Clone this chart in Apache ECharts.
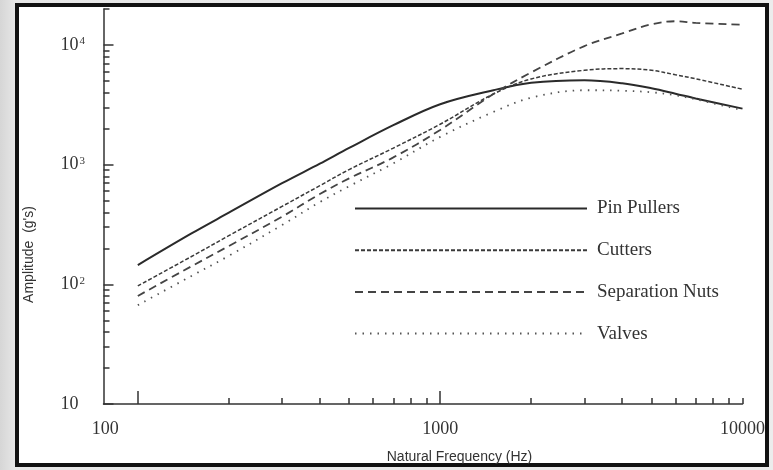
<!DOCTYPE html>
<html>
<head>
<meta charset="utf-8">
<script src="https://cdn.jsdelivr.net/npm/echarts@6/dist/echarts.min.js"></script>
<style>
  html, body { margin: 0; padding: 0; width: 773px; height: 470px; overflow: hidden;
    background: linear-gradient(to right, #d6d6d6 0px, #e6e6e6 15px, #ececec 100%); }
  #chart { width: 773px; height: 470px; }
</style>
</head>
<body>
<div id="chart"></div>
<script>
// ---- data ----
const seriesNames = ['Pin Pullers', 'Cutters', 'Separation Nuts', 'Valves'];
const freqs       = [100, 150, 200, 300, 400, 500, 700, 1000, 1500, 2000, 3000, 4000, 5000, 6000, 7000, 10000];
const pinPullers  = [145, 265, 397, 700, 1020, 1380, 2138, 3200, 4190, 4830, 5070, 4790, 4350, 3920, 3570, 2940];
const cutters     = [97, 170, 255, 448, 668, 910, 1377, 2178, 3900, 5210, 6150, 6350, 6150, 5640, 5220, 4270];
const sepNuts     = [80, 141, 209, 368, 568, 769, 1150, 1950, 3900, 5900, 9800, 12500, 14900, 15800, 15300, 14800];
const valves      = [67, 117, 173, 313, 487, 661, 1025, 1706, 2760, 3630, 4190, 4150, 4030, 3800, 3520, 2850];

// axis ticks / labels
const xMin = 77, xMax = 10000;
const yMin = 10, yMax = 20000;
const xMajorTicks = [100, 1000];
const xMinorTicks = [200, 300, 400, 500, 600, 700, 800, 900, 2000, 3000, 4000, 5000, 6000, 7000, 8000, 9000, 10000];
const xLabelValues = [78, 1000, 10000];
const xTickLabels = ['100', '1000', '10000'];
const yMajorTicks = [10, 100, 1000, 10000];
const yMinorTicks = [20, 30, 40, 50, 60, 70, 80, 90, 200, 300, 400, 500, 600, 700, 800, 900,
                     2000, 3000, 4000, 5000, 6000, 7000, 8000, 9000, 20000];
const yTickLabels = ['10', '10^2', '10^3', '10^4'];
const xTitle = 'Natural Frequency (Hz)';
const yTitle = "Amplitude  (g's)";

const toPairs = vals => freqs.map((f, i) => [f, vals[i]]);

const serif = "'Liberation Serif', 'Times New Roman', serif";
const sans = "'Liberation Sans', Arial, sans-serif";
const ink = '#333';

const grid = { left: 103.5, right: 30.5, top: 9, bottom: 66 };

const chart = echarts.init(document.getElementById('chart'), null, { renderer: 'canvas' });

const lineStyles = [
  { color: '#2a2a2a', width: 2, type: 'solid' },
  { color: '#3a3a3a', width: 1.5, type: [4, 2] },
  { color: '#444', width: 1.8, type: [8, 5] },
  { color: '#555', width: 1.8, type: [1.5, 6] }
];
const dataSets = [pinPullers, cutters, sepNuts, valves];

chart.setOption({
  animation: false,
  backgroundColor: 'transparent',
  graphic: [{
    type: 'rect', z: -10, silent: true,
    shape: { x: 17, y: 5, width: 750, height: 460 },
    style: { fill: '#fff', stroke: '#111', lineWidth: 4 }
  }],
  grid: grid,
  legend: {
    data: seriesNames,
    orient: 'vertical',
    left: 354, top: 199, padding: 0,
    itemWidth: 232, itemHeight: 14, itemGap: 22.7,
    itemStyle: { opacity: 0 },
    textStyle: { fontFamily: serif, fontSize: 19, color: ink, padding: [0, 0, 0, 5] },
    selectedMode: false
  },
  xAxis: [{
    type: 'log', min: xMin, max: xMax, logBase: 10,
    position: 'bottom',
    axisLine: { show: true, lineStyle: { color: ink, width: 1.5 } },
    axisTick: { show: true, inside: true, length: 13, customValues: xMajorTicks, lineStyle: { color: ink, width: 1.5 } },
    axisLabel: {
      show: true, margin: 16, customValues: xLabelValues,
      fontFamily: serif, fontSize: 18, color: ink,
      formatter: v => { const i = xLabelValues.findIndex(x => Math.abs(x - v) < 1e-6 * x); return i >= 0 ? xTickLabels[i] : ''; }
    },
    splitLine: { show: false },
    name: xTitle, nameLocation: 'middle', nameGap: 46,
    nameTextStyle: { fontFamily: sans, fontSize: 14, color: ink, padding: [0, 0, 0, 73] }
  }, {
    type: 'log', min: xMin, max: xMax, logBase: 10,
    position: 'bottom',
    axisLine: { show: false },
    axisTick: { show: true, inside: true, length: 6, customValues: xMinorTicks, lineStyle: { color: ink, width: 1.5 } },
    axisLabel: { show: false },
    splitLine: { show: false }
  }],
  yAxis: [{
    type: 'log', min: yMin, max: yMax, logBase: 10,
    position: 'left',
    axisLine: { show: true, lineStyle: { color: ink, width: 1.5 } },
    axisTick: { show: true, inside: true, length: 10, customValues: yMajorTicks, lineStyle: { color: ink, width: 1.5 } },
    axisLabel: {
      show: true, margin: 43, align: 'left', customValues: yMajorTicks,
      fontFamily: serif, fontSize: 18, color: ink,
      formatter: v => {
        const i = yMajorTicks.findIndex(x => Math.abs(x - v) < 1e-6 * x);
        if (i < 0) return '';
        const parts = yTickLabels[i].split('^');
        return parts.length > 1 ? '{b|' + parts[0] + '}{s|' + parts[1] + '}' : '{b|' + parts[0] + '}';
      },
      rich: {
        b: { fontFamily: serif, fontSize: 18, color: ink, lineHeight: 18 },
        s: { fontFamily: serif, fontSize: 11, color: ink, lineHeight: 11, verticalAlign: 'top', padding: [0, 0, 0, 1] }
      }
    },
    splitLine: { show: false },
    name: yTitle, nameLocation: 'middle', nameGap: 67, nameRotate: 90,
    nameTextStyle: { fontFamily: sans, fontSize: 14, color: ink, padding: [0, 96, 0, 0] }
  }, {
    type: 'log', min: yMin, max: yMax, logBase: 10,
    position: 'left',
    axisLine: { show: false },
    axisTick: { show: true, inside: true, length: 6, customValues: yMinorTicks, lineStyle: { color: ink, width: 1.5 } },
    axisLabel: { show: false },
    splitLine: { show: false }
  }],
  series: seriesNames.map((name, k) => ({
    name: name,
    type: 'line',
    xAxisIndex: 0, yAxisIndex: 0,
    data: toPairs(dataSets[k]),
    showSymbol: false, symbol: 'none',
    smooth: 0.35,
    lineStyle: lineStyles[k],
    itemStyle: { color: lineStyles[k].color },
    emphasis: { disabled: true }
  }))
});
</script>
</body>
</html>
